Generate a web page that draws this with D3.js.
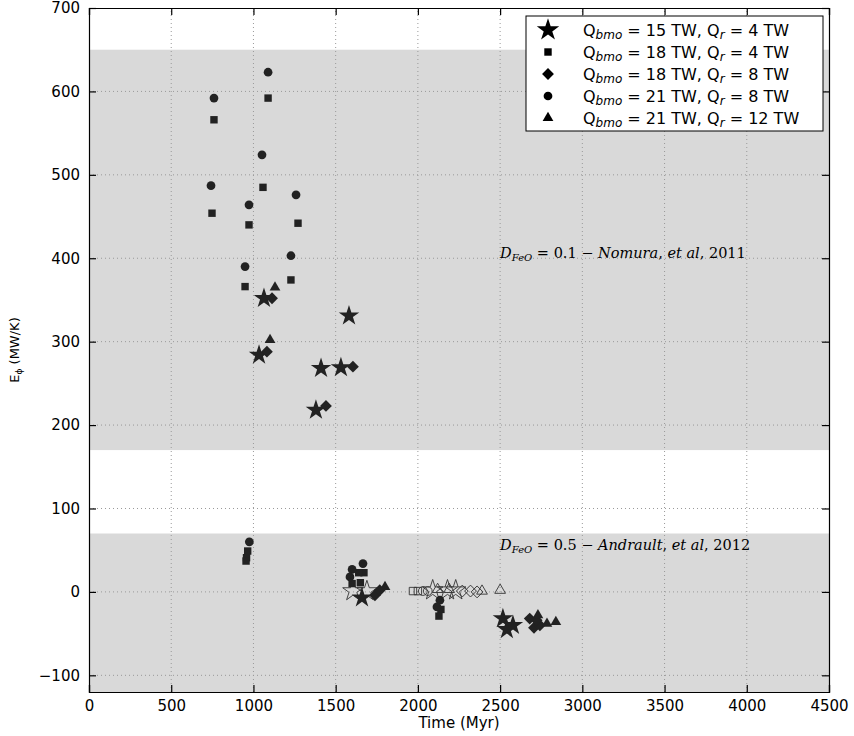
<!DOCTYPE html>
<html>
<head>
<meta charset="utf-8">
<script src="https://cdnjs.cloudflare.com/ajax/libs/d3/7.8.5/d3.min.js"></script>
<style>
  body { margin: 0; background: #fff; }
  text { font-family: "DejaVu Sans", sans-serif; }
</style>
</head>
<body>
<script>
// series: Q_bmo, Q_r and filled / open points [time Myr, E_phi MW/K]
const seriesNames = [
    { bmo: "15", r: "4", shape: "star" },
    { bmo: "18", r: "4", shape: "square" },
    { bmo: "18", r: "8", shape: "diamond" },
    { bmo: "21", r: "8", shape: "circle" },
    { bmo: "21", r: "12", shape: "triangle" }
];

const starFilled = [[1064, 352], [1581, 331], [1034, 284], [1411, 268], [1532, 269], [1380, 218],
    [1660, -7], [2517, -32], [2541, -45], [2578, -40]];
const starOpen = [[1605, 1], [1690, 1], [2090, 2], [2180, 2], [2230, 2]];

const squareFilled = [[1089, 592], [760, 566], [1058, 485], [748, 454], [973, 440], [1271, 442],
    [1228, 374], [949, 366], [965, 49], [958, 41], [955, 37],
    [1600, 10], [1650, 11], [1672, 23], [1640, 23], [2140, -21], [2128, -29]];
const squareOpen = [[1970, 1], [2000, 1]];

const diamondFilled = [[1113, 352], [1082, 288], [1605, 270], [1441, 223],
    [1739, -4], [1768, 2], [2680, -32], [2706, -43], [2742, -40], [2722, -34]];
const diamondOpen = [[2270, 1], [2320, 1], [2360, 0]];

const circleFilled = [[760, 592], [1089, 623], [1052, 524], [742, 487], [1259, 476], [973, 464],
    [1228, 403], [949, 390], [975, 60], [1600, 27], [1587, 18], [1666, 34], [2134, -10], [2116, -18]];
const circleOpen = [[2030, 1], [2060, 1]];

const triangleFilled = [[1131, 365], [1101, 302], [1800, 6], [2730, -28], [2785, -38], [2839, -36]];
const triangleOpen = [[2120, 3], [2190, 3], [2390, 1], [2500, 2]];

const bands = [[170, 650], [-120, 70]];
const xTicks = [0, 500, 1000, 1500, 2000, 2500, 3000, 3500, 4000, 4500];
const yTicks = [-100, 0, 100, 200, 300, 400, 500, 600, 700];

const pts = {
    star: [starFilled, starOpen],
    square: [squareFilled, squareOpen],
    diamond: [diamondFilled, diamondOpen],
    circle: [circleFilled, circleOpen],
    triangle: [triangleFilled, triangleOpen]
};

const width = 854, height = 736;
const margin = { left: 89, right: 25, top: 8, bottom: 44 };

const x = d3.scaleLinear().domain([0, 4500]).range([margin.left, width - margin.right]);
const y = d3.scaleLinear().domain([-120, 700]).range([height - margin.bottom, margin.top]);

const svg = d3.select("body").append("svg")
    .attr("width", width)
    .attr("height", height);

// shaded bands
svg.selectAll(".band")
    .data(bands)
    .enter().append("rect")
    .attr("x", x(0))
    .attr("width", x(4500) - x(0))
    .attr("y", d => y(d[1]))
    .attr("height", d => y(d[0]) - y(d[1]))
    .attr("fill", "#d9d9d9");

// grid
svg.selectAll(".gx")
    .data(xTicks.slice(1, -1))
    .enter().append("line")
    .attr("x1", d => x(d)).attr("x2", d => x(d))
    .attr("y1", y(-120)).attr("y2", y(700))
    .attr("stroke", "#999").attr("stroke-dasharray", "1,3");
svg.selectAll(".gy")
    .data(yTicks.slice(0, -1))
    .enter().append("line")
    .attr("y1", d => y(d)).attr("y2", d => y(d))
    .attr("x1", x(0)).attr("x2", x(4500))
    .attr("stroke", "#999").attr("stroke-dasharray", "1,3");

// annotations
function mathLabel(tx, ty, sub, rest) {
    const t = svg.append("text")
        .attr("x", tx).attr("y", ty)
        .style("font-family", "'DejaVu Serif', serif")
        .style("font-size", "14.5px");
    t.append("tspan").style("font-style", "italic").text("D");
    t.append("tspan").style("font-style", "italic").style("font-size", "10px").attr("dy", 3).text(sub);
    t.append("tspan").attr("dy", -3).text(" = " + rest[0] + " \u2212 ");
    t.append("tspan").style("font-style", "italic").text(rest[1]);
    t.append("tspan").text(", ");
    t.append("tspan").style("font-style", "italic").text("et");
    t.append("tspan").text(" ");
    t.append("tspan").style("font-style", "italic").text("al");
    t.append("tspan").text(", " + rest[2]);
}
mathLabel(x(2500), y(400), "FeO", ["0.1", "Nomura", "2011"]);
mathLabel(x(2500), y(50), "FeO", ["0.5", "Andrault", "2012"]);

// markers
const symbolTypes = {
    star: [d3.symbolStar, 130],
    square: [d3.symbolSquare, 55],
    diamond: [d3.symbolSquare, 70],
    circle: [d3.symbolCircle, 60],
    triangle: [d3.symbolTriangle, 50]
};
function sym(shape, scale) {
    const s = symbolTypes[shape];
    return d3.symbol().type(s[0]).size(s[1] * (scale || 1))();
}
const rot = shape => shape === "diamond" ? " rotate(45)" : "";

seriesNames.forEach(s => {
    const [filled, open] = pts[s.shape];
    svg.append("g").selectAll("path")
        .data(open)
        .enter().append("path")
        .attr("d", sym(s.shape))
        .attr("transform", d => `translate(${x(d[0])},${y(d[1])})` + rot(s.shape))
        .attr("fill", "none")
        .attr("stroke", "#333")
        .attr("stroke-width", 0.9);
    svg.append("g").selectAll("path")
        .data(filled)
        .enter().append("path")
        .attr("d", sym(s.shape))
        .attr("transform", d => `translate(${x(d[0])},${y(d[1])})` + rot(s.shape))
        .attr("fill", "#222");
});

// axes (ticks inward, all sides)
const fmt = d => d < 0 ? "\u2212" + Math.abs(d) : String(d);
const axB = svg.append("g").attr("transform", `translate(0,${y(-120)})`)
    .call(d3.axisBottom(x).tickValues(xTicks).tickSize(-7).tickPadding(8).tickFormat(fmt));
const axT = svg.append("g").attr("transform", `translate(0,${y(700)})`)
    .call(d3.axisTop(x).tickValues(xTicks).tickSize(-7).tickFormat(""));
const axL = svg.append("g").attr("transform", `translate(${x(0)},0)`)
    .call(d3.axisLeft(y).tickValues(yTicks).tickSize(-7).tickPadding(9).tickFormat(fmt));
const axR = svg.append("g").attr("transform", `translate(${x(4500)},0)`)
    .call(d3.axisRight(y).tickValues(yTicks).tickSize(-7).tickFormat(""));
[axB, axT, axL, axR].forEach(a => {
    a.select(".domain").attr("stroke", "#000").attr("stroke-width", 1.2);
    a.selectAll(".tick line").attr("stroke", "#000").attr("stroke-width", 1.2);
    a.selectAll("text").style("font-size", "15px").style("font-family", "'DejaVu Sans', sans-serif").attr("fill", "#000");
});

// axis titles
svg.append("text")
    .attr("x", (x(0) + x(4500)) / 2).attr("y", 728)
    .attr("text-anchor", "middle")
    .style("font-size", "15px")
    .text("Time (Myr)");
const yl = svg.append("text")
    .attr("transform", `translate(19,${(y(-120) + y(700)) / 2}) rotate(-90)`)
    .attr("text-anchor", "middle")
    .style("font-size", "13px");
yl.append("tspan").text("E");
yl.append("tspan").style("font-size", "9px").attr("dy", 3).text("\u03d5");
yl.append("tspan").attr("dy", -3).text(" (MW/K)");

// legend
const lg = svg.append("g").attr("transform", "translate(526,16)");
lg.append("rect")
    .attr("width", 297).attr("height", 115)
    .attr("fill", "#fff").attr("stroke", "#000").attr("stroke-width", 1);
seriesNames.forEach((s, i) => {
    const ly = 14 + i * 22;
    lg.append("path")
        .attr("d", sym(s.shape, s.shape === "star" ? 1.2 : 1))
        .attr("transform", `translate(22,${ly})` + rot(s.shape))
        .attr("fill", "#000");
    const t = lg.append("text")
        .attr("x", 57).attr("y", ly + 6)
        .style("font-size", "16px");
    t.append("tspan").text("Q");
    t.append("tspan").style("font-size", "12px").style("font-style", "italic").attr("dy", 3).text("bmo");
    t.append("tspan").attr("dy", -3).text(` = ${s.bmo} TW, Q`);
    t.append("tspan").style("font-size", "12px").style("font-style", "italic").attr("dy", 3).text("r");
    t.append("tspan").attr("dy", -3).text(` = ${s.r} TW`);
});
</script>
</body>
</html>
